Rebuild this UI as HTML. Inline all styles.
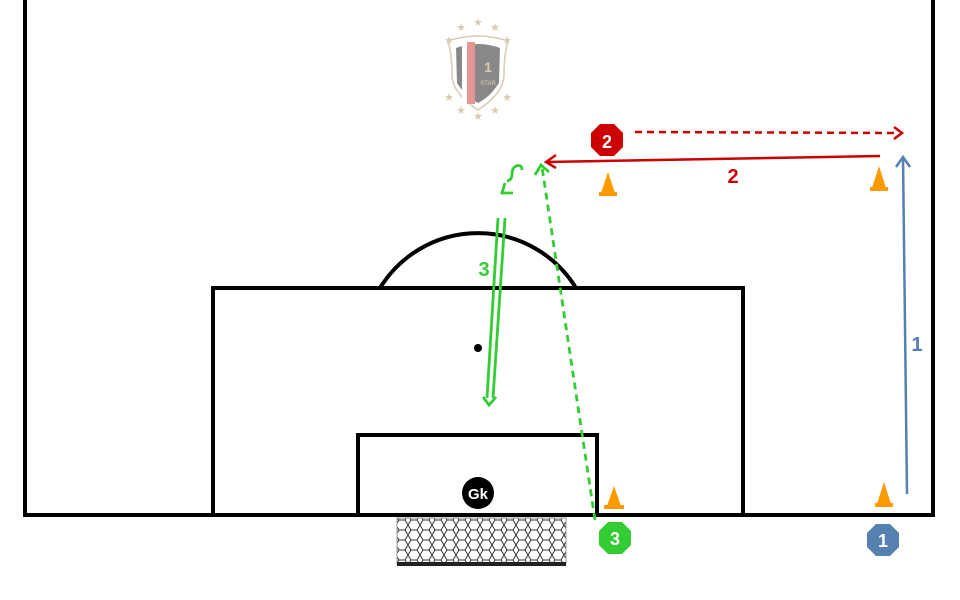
<!DOCTYPE html>
<html><head><style>body{margin:0;background:#fff}svg{display:block}</style></head><body>
<svg width="960" height="600" viewBox="0 0 960 600" xmlns="http://www.w3.org/2000/svg" font-family="Liberation Sans, sans-serif">
<defs>
<pattern id="net" width="12" height="10" patternUnits="userSpaceOnUse">
<path d="M0 5 L3 0 L9 0 L12 5 L9 10 L3 10 Z" fill="none" stroke="#333" stroke-width="1"/>
</pattern>
</defs>
<g fill="none" stroke="#000" stroke-width="4">
<path d="M25 0 V515 H933 V0"/>
<rect x="213" y="288" width="530" height="227"/>
<rect x="358" y="435" width="239" height="80"/>
<path d="M380 288 A115 115 0 0 1 576 288"/>
</g>
<circle cx="478" cy="348" r="4" fill="#000"/>
<rect x="397" y="518" width="169" height="46" fill="url(#net)" stroke="#999" stroke-width="1"/>
<rect x="397" y="562" width="169" height="4" fill="#222"/>
<circle cx="478" cy="493" r="16" fill="#000"/>
<text x="478" y="499" font-size="15" font-weight="bold" fill="#fff" text-anchor="middle">Gk</text>
<!-- logo -->
<g transform="translate(478,75)">
<path d="M-30 -34 Q0 -44 30 -34 Q26 -20 26 0 Q26 18 0 35 Q-26 18 -26 0 Q-26 -20 -30 -34 Z" fill="none" stroke="#d8ccb0" stroke-width="1.5"/>
<path d="M-22 -27 Q0 -35 22 -27 L21 8 Q12 22 0 28 Q-12 22 -21 8 Z" fill="#888"/>
<rect x="-11" y="-33" width="8" height="62" fill="#e59595"/>
<rect x="-16" y="-31" width="5" height="58" fill="#fff"/>
<text x="10" y="-3" font-size="14" font-weight="bold" fill="#d8ccb0" text-anchor="middle">1</text>
<text x="10" y="10" font-size="6" fill="#d8ccb0" text-anchor="middle">STAR</text>
<g fill="#d8ccb0" font-size="11" text-anchor="middle">
<text x="0" y="-49">★</text><text x="-17" y="-44">★</text><text x="17" y="-44">★</text>
<text x="-29" y="-31">★</text><text x="29" y="-31">★</text>
<text x="-29" y="26">★</text><text x="29" y="26">★</text>
<text x="-17" y="39">★</text><text x="17" y="39">★</text><text x="0" y="45">★</text>
</g>
</g>
<!-- cones -->
<g fill="#f90">
<path d="M608 172 L615 193 L601 193 Z"/><rect x="599" y="192" width="18" height="4"/>
<path d="M879 166 L886 188 L872 188 Z"/><rect x="870" y="187" width="18" height="4"/>
<path d="M614 486 L621 506 L607 506 Z"/><rect x="604" y="505" width="20" height="4"/>
<path d="M884 482 L891 504 L877 504 Z"/><rect x="875" y="503" width="18" height="4"/>
</g>
<!-- red -->
<g stroke="#c00" stroke-width="2.5" fill="none">
<path d="M635 132 L898 133" stroke-dasharray="7,5"/>
<path d="M894 127 L902 133 L894 139"/>
<path d="M880 156 L546 162"/>
<path d="M556 155 L546 162 L556 168"/>
</g>
<text x="733" y="183" font-size="20" font-weight="bold" fill="#c00" text-anchor="middle">2</text>
<!-- blue -->
<g stroke="#5580b0" stroke-width="2.5" fill="none">
<path d="M907 494 L903 158"/>
<path d="M896 167 L903 157 L910 167"/>
</g>
<text x="917" y="351" font-size="20" font-weight="bold" fill="#5580b0" text-anchor="middle">1</text>
<!-- green -->
<g stroke="#33cc33" stroke-width="2.8" fill="none">
<path d="M595 520 L542 167" stroke-dasharray="7,5"/>
<path d="M535 175 L541 165 L549 172"/>
<path d="M522 170 Q522 164 516 166 Q512 168 512 174 Q512 180 507 181"/>
<path d="M505 183 L502 193 L513 193"/>
<path d="M498 218 L487 398"/>
<path d="M505 218 L493 398"/>
<path d="M483 397 L489 405 L496 397"/>
</g>
<text x="484" y="276" font-size="20" font-weight="bold" fill="#33cc33" text-anchor="middle">3</text>
<!-- markers -->
<g>
<polygon points="600,124 614,124 623,133 623,147 614,156 600,156 591,147 591,133" fill="#c00"/>
<text x="607" y="148" font-size="18" font-weight="bold" fill="#fff" text-anchor="middle">2</text>
<polygon points="608,522 622,522 631,531 631,545 622,554 608,554 599,545 599,531" fill="#33cc33"/>
<text x="615" y="545" font-size="18" font-weight="bold" fill="#fff" text-anchor="middle">3</text>
<polygon points="876,524 890,524 899,533 899,547 890,556 876,556 867,547 867,533" fill="#5580b0"/>
<text x="883" y="547" font-size="18" font-weight="bold" fill="#fff" text-anchor="middle">1</text>
</g>
</svg>
</body></html>
